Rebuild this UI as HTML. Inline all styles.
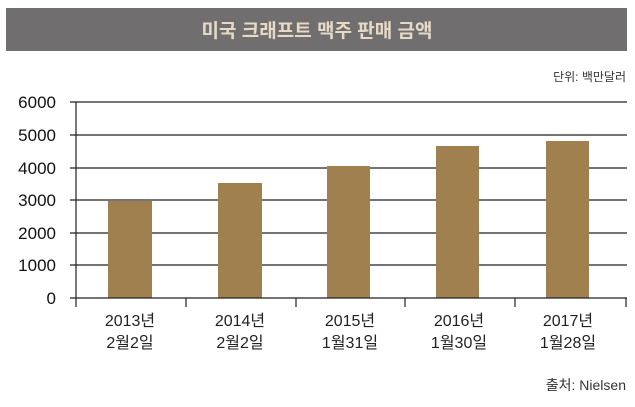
<!DOCTYPE html>
<html><head><meta charset="utf-8"><style>
body{margin:0;background:#fff;width:635px;height:402px;overflow:hidden;font-family:"Liberation Sans","Noto Sans CJK KR",sans-serif}
</style></head><body>
<svg width="635" height="402" xmlns="http://www.w3.org/2000/svg" font-family="Liberation Sans, Noto Sans CJK KR, sans-serif">
<rect x="6" y="8" width="621" height="43" fill="#706e6e"/>
<text x="317" y="37" text-anchor="middle" font-size="19" fill="#e6d9c6" font-weight="bold">미국 크래프트 맥주 판매 금액</text>
<text x="626" y="81" text-anchor="end" font-size="12" fill="#333">단위: 백만달러</text>
<g stroke="#222" stroke-width="1.2">
<line x1="70" y1="102" x2="627" y2="102"/>
<line x1="70" y1="135" x2="627" y2="135"/>
<line x1="70" y1="168" x2="627" y2="168"/>
<line x1="70" y1="200" x2="627" y2="200"/>
<line x1="70" y1="233" x2="627" y2="233"/>
<line x1="70" y1="265" x2="627" y2="265"/>
</g>
<g fill="#a0804f">
<rect x="108" y="201" width="44" height="97"/>
<rect x="218" y="183" width="44" height="115"/>
<rect x="327" y="166" width="43" height="132"/>
<rect x="436" y="146" width="43" height="152"/>
<rect x="546" y="141" width="43" height="157"/>
</g>
<g stroke="#222" stroke-width="1.2">
<line x1="70" y1="298" x2="627" y2="298"/>
<line x1="76" y1="102" x2="76" y2="307"/>
<line x1="186" y1="298" x2="186" y2="307"/>
<line x1="296" y1="298" x2="296" y2="307"/>
<line x1="405" y1="298" x2="405" y2="307"/>
<line x1="515" y1="298" x2="515" y2="307"/>
<line x1="626" y1="298" x2="626" y2="307"/>
</g>
<g font-size="17" fill="#111" text-anchor="end">
<text x="56" y="108">6000</text><text x="56" y="141">5000</text><text x="56" y="174">4000</text>
<text x="56" y="206">3000</text><text x="56" y="239">2000</text><text x="56" y="271">1000</text><text x="56" y="304">0</text>
</g>
<g font-size="16" fill="#222" text-anchor="middle">
<text x="130" y="326">2013년</text><text x="130" y="348">2월2일</text>
<text x="240" y="326">2014년</text><text x="240" y="348">2월2일</text>
<text x="350" y="326">2015년</text><text x="350" y="348">1월31일</text>
<text x="459" y="326">2016년</text><text x="459" y="348">1월30일</text>
<text x="568" y="326">2017년</text><text x="568" y="348">1월28일</text>
</g>
<text x="626" y="390" text-anchor="end" font-size="14" fill="#333">출처: Nielsen</text>
</svg>
</body></html>
